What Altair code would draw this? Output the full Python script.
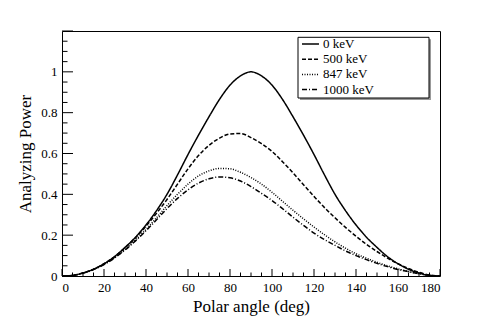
import altair as alt
import pandas as pd

# ---- data ----
angles = list(range(0, 181, 5))
ap_0kev = [0, 0.003, 0.015, 0.033, 0.06, 0.095, 0.14, 0.19, 0.25, 0.32, 0.40, 0.495,
           0.595, 0.69, 0.78, 0.865, 0.935, 0.98, 1.0, 0.98, 0.935, 0.865, 0.78, 0.69,
           0.595, 0.495, 0.40, 0.32, 0.25, 0.19, 0.14, 0.095, 0.06, 0.033, 0.015, 0.003, 0]
ap_500kev = [0, 0.003, 0.015, 0.033, 0.06, 0.094, 0.138, 0.187, 0.244, 0.307, 0.375, 0.45,
             0.525, 0.59, 0.64, 0.675, 0.696, 0.698, 0.678, 0.648, 0.61, 0.56, 0.505, 0.447,
             0.39, 0.335, 0.285, 0.238, 0.195, 0.155, 0.12, 0.088, 0.06, 0.037, 0.018, 0.005, 0]
ap_847kev = [0, 0.003, 0.014, 0.032, 0.058, 0.09, 0.13, 0.176, 0.228, 0.285, 0.345, 0.40,
             0.45, 0.49, 0.515, 0.527, 0.525, 0.508, 0.482, 0.45, 0.41, 0.366, 0.322, 0.28,
             0.24, 0.202, 0.167, 0.136, 0.109, 0.087, 0.067, 0.05, 0.035, 0.022, 0.011, 0.003, 0]
ap_1000kev = [0, 0.003, 0.014, 0.031, 0.056, 0.088, 0.127, 0.172, 0.222, 0.275, 0.33, 0.38,
              0.422, 0.455, 0.476, 0.485, 0.481, 0.465, 0.438, 0.405, 0.37, 0.33, 0.288, 0.248,
              0.21, 0.178, 0.15, 0.123, 0.1, 0.08, 0.062, 0.046, 0.032, 0.021, 0.011, 0.003, 0]
series_names = ["0 keV", "500 keV", "847 keV", "1000 keV"]
dash_styles = [[1, 0], [4, 2], [1, 1.5], [5, 2, 1, 2]]

x_major = [0, 20, 40, 60, 80, 100, 120, 140, 160, 180]
x_minor = [5, 10, 15, 25, 30, 35, 45, 50, 55, 65, 70, 75, 85, 90, 95, 105, 110, 115,
           125, 130, 135, 145, 150, 155, 165, 170, 175]
y_labels = [0, 0.2, 0.4, 0.6, 0.8, 1.0]
y_major = [0, 0.2, 0.4, 0.6, 0.8, 1.0, 1.2]
y_minor = [0.05, 0.1, 0.15, 0.25, 0.3, 0.35, 0.45, 0.5, 0.55, 0.65, 0.7, 0.75,
           0.85, 0.9, 0.95, 1.05, 1.1, 1.15]

rows = []
for name, vals in zip(series_names, [ap_0kev, ap_500kev, ap_847kev, ap_1000kev]):
    for a, v in zip(angles, vals):
        rows.append({"angle": a, "value": v, "series": name})
df = pd.DataFrame(rows)

W, H = 378, 245
FONT = "Liberation Serif"

xscale = alt.Scale(domain=[0, 180], nice=False, zero=False)
yscale = alt.Scale(domain=[0, 1.2], nice=False)

xaxis = alt.Axis(values=x_major, title="Polar angle (deg)", ticks=False, domain=False,
                 grid=False, labelFont=FONT, labelFontSize=13, labelColor="black",
                 labelPadding=5, titleFont=FONT, titleFontSize=17,
                 titleFontWeight="normal", titleColor="black", titlePadding=4)
yaxis = alt.Axis(values=y_labels, format="~g", title="Analyzing Power", ticks=False,
                 domain=False, grid=False, labelFont=FONT, labelFontSize=13,
                 labelColor="black", labelPadding=5, titleFont=FONT, titleFontSize=17,
                 titleFontWeight="normal", titleColor="black", titlePadding=6)

lines = alt.Chart(df).mark_line(interpolate="monotone", strokeWidth=1.5, color="black").encode(
    x=alt.X("angle:Q", scale=xscale, axis=xaxis),
    y=alt.Y("value:Q", scale=yscale, axis=yaxis),
    strokeDash=alt.StrokeDash(
        "series:N",
        scale=alt.Scale(domain=series_names, range=dash_styles),
        sort=series_names,
        legend=alt.Legend(title=None, orient="none", legendX=236, legendY=6.5,
                          padding=0, symbolType="M-3,0L3,0", symbolSize=32,
                          symbolStrokeColor="black", symbolStrokeWidth=1.5,
                          symbolOffset=6, labelOffset=6, rowPadding=1.2,
                          labelFont=FONT, labelFontSize=13, labelColor="black"),
    ),
)

one = pd.DataFrame({"k": [0]})
shadow = alt.Chart(one).mark_rect(color="#999999").encode(
    x=alt.value(238), x2=alt.value(369), y=alt.value(8.3), y2=alt.value(69))
box = alt.Chart(one).mark_rect(fill="white", stroke="black", strokeWidth=1).encode(
    x=alt.value(236), x2=alt.value(367), y=alt.value(6.3), y2=alt.value(67))

xmaj = alt.Chart(pd.DataFrame({"angle": x_major})).mark_rule(color="black").encode(
    x=alt.X("angle:Q", scale=xscale, axis=xaxis), y=alt.value(H), y2=alt.value(H - 7))
xmin = alt.Chart(pd.DataFrame({"angle": x_minor})).mark_rule(color="black").encode(
    x=alt.X("angle:Q", scale=xscale, axis=xaxis), y=alt.value(H), y2=alt.value(H - 3.5))
ymaj = alt.Chart(pd.DataFrame({"value": y_major})).mark_rule(color="black").encode(
    y=alt.Y("value:Q", scale=yscale, axis=yaxis), x=alt.value(0), x2=alt.value(11))
ymin = alt.Chart(pd.DataFrame({"value": y_minor})).mark_rule(color="black").encode(
    y=alt.Y("value:Q", scale=yscale, axis=yaxis), x=alt.value(0), x2=alt.value(5.5))

chart = alt.layer(shadow, box, xmin, xmaj, ymin, ymaj, lines).properties(
    width=W, height=H,
    padding={"left": 54, "top": 23, "right": 10, "bottom": 44},
    autosize=alt.AutoSizeParams(type="none"),
    background="white",
).configure_view(stroke="black", strokeWidth=1)

chart.save("out.html", embed_options={"renderer": "svg", "actions": False})
